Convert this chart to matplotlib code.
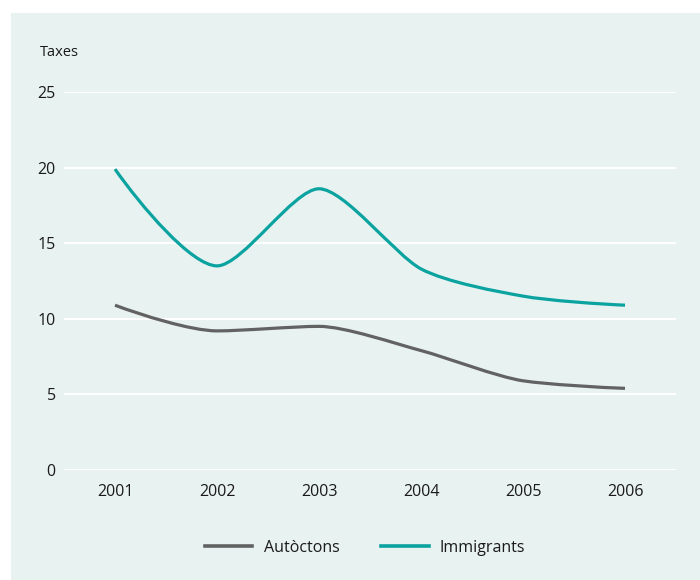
import numpy as np
import matplotlib
matplotlib.use("Agg")
import matplotlib.pyplot as plt
from matplotlib.path import Path
from matplotlib.patches import PathPatch, Rectangle
from matplotlib.lines import Line2D

plt.rcParams['font.family'] = ['Open Sans', 'DejaVu Sans']

years = [2001, 2002, 2003, 2004, 2005, 2006]
autoctons = [10.9, 9.2, 9.5, 7.9, 5.9, 5.4]
immigrants = [19.9, 13.5, 18.6, 13.3, 11.5, 10.9]
yticks = [0, 5, 10, 15, 20, 25]
series_names = ["Autòctons", "Immigrants"]
colors = ["#626262", "#0aa3a0"]
y_title = "Taxes"
bg = "#e8f2f0"


def monotone_path(xs, ys, k=0.25):
    xs = np.asarray(xs, float)
    ys = np.asarray(ys, float)
    n = len(xs)
    h = np.diff(xs)
    s = np.diff(ys) / h
    t = np.zeros(n)
    for i in range(1, n - 1):
        s0, s1 = s[i - 1], s[i]
        h0, h1 = h[i - 1], h[i]
        p = (s0 * h1 + s1 * h0) / (h0 + h1)
        t[i] = (np.sign(s0) + np.sign(s1)) * min(abs(s0), abs(s1), 0.5 * abs(p))
    t[0] = (3 * s[0] - t[1]) / 2
    t[-1] = (3 * s[-1] - t[-2]) / 2
    verts = [(xs[0], ys[0])]
    codes = [Path.MOVETO]
    for i in range(n - 1):
        dx = h[i] * k
        verts += [(xs[i] + dx, ys[i] + dx * t[i]),
                  (xs[i + 1] - dx, ys[i + 1] - dx * t[i + 1]),
                  (xs[i + 1], ys[i + 1])]
        codes += [Path.CURVE4] * 3
    return Path(verts, codes)


fig = plt.figure(figsize=(7.0, 5.8), dpi=100)
fig.patch.set_facecolor("white")
fig.patches.append(Rectangle((11 / 700, 0.0), 1 - 11 / 700, 1 - 13 / 580,
                             transform=fig.transFigure, facecolor=bg,
                             edgecolor="none", zorder=-10))

ax = fig.add_axes([64 / 700, 1 - 470 / 580, 612 / 700, (470 - 92) / 580])
ax.set_facecolor(bg)
ax.patch.set_alpha(0)
ax.set_xlim(2000.5, 2006.5)
ax.set_ylim(0, 25)
ax.set_yticks(yticks)
ax.set_xticks(years)
ax.set_xticklabels([str(y) for y in years])
for sp in ax.spines.values():
    sp.set_visible(False)
ax.tick_params(axis='both', length=0, labelsize=11.5, colors="#1a1a1a")
ax.tick_params(axis='y', pad=6)
ax.tick_params(axis='x', pad=10)
ax.grid(axis='y', color="white", linewidth=1.4)
ax.set_axisbelow(True)

handles = []
for name, vals, c in zip(series_names, [autoctons, immigrants], colors):
    patch = PathPatch(monotone_path(years, vals), facecolor="none",
                      edgecolor=c, linewidth=2.3, capstyle="butt",
                      joinstyle="round", zorder=3)
    ax.add_patch(patch)
    handles.append(Line2D([], [], color=c, linewidth=2.6, label=name))

fig.text(40 / 700, 1 - 52 / 580, y_title, fontsize=10.5, color="#1a1a1a",
         va="center", ha="left")

fig.legend(handles=handles, loc="center", bbox_to_anchor=(365 / 700, 1 - 548 / 580),
           ncol=2, frameon=False, fontsize=11.5, handlelength=3.0,
           handletextpad=0.7, columnspacing=2.6, labelcolor="#1a1a1a")

fig.savefig("out.png", dpi=100, facecolor="white")
